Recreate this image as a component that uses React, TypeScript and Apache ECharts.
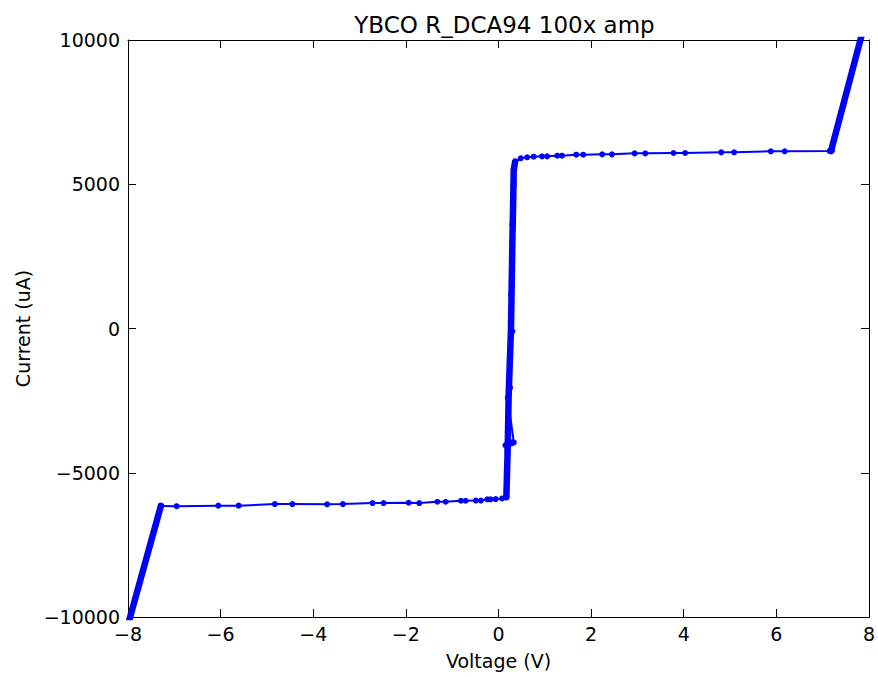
import React, { useEffect, useRef } from "react";
import * as echarts from "echarts";

// Measured points (thin line with dot markers)
const voltage = [
  -7.29, -6.95, -6.05, -5.61, -4.83, -4.45, -3.7, -3.36, -2.72, -2.48, -1.94, -1.71,
  -1.32, -1.14, -0.81, -0.71, -0.49, -0.38, -0.24, -0.17, -0.06, 0.08, 0.17,
  0.18, 0.15, 0.33, 0.2, 0.25, 0.3, 0.27, 0.3, 0.33, 0.33, 0.36,
  0.48, 0.62, 0.76, 0.94, 1.05, 1.27, 1.37, 1.68, 1.83, 2.24, 2.45, 2.94, 3.17,
  3.78, 4.03, 4.81, 5.09, 5.88, 6.18, 7.15, 7.2,
];
const current = [
  -6150, -6160, -6140, -6140, -6085, -6085, -6095, -6085, -6050, -6050, -6040, -6050,
  -6005, -6005, -5970, -5970, -5965, -5965, -5920, -5920, -5915, -5890, -5820,
  -5000, -4050, -3950, -2400, -2050, -100, 1200, 3600, 5000, 5550, 5780,
  5900, 5934, 5956, 5967, 5967, 5990, 5990, 6024, 6024, 6036, 6036, 6071, 6071,
  6083, 6083, 6106, 6106, 6141, 6141, 6152, 6165,
];

// Densely sampled stretches that render as thick bands
const denseV = [-7.98, -7.29, null, 0.17, 0.2, 0.22, 0.27, 0.3, 0.33, 0.36, null, 0.2, 0.3, null, 7.18, 7.84];
const denseI = [-10150, -6150, null, -5850, -4100, -2300, 0, 3000, 5500, 5790, null, -4000, -3960, null, 6150, 10150];

const xTicks = { min: -8, max: 8, interval: 2 };
const yTicks = { min: -10000, max: 10000, interval: 5000 };

const TITLE = "YBCO R_DCA94 100x amp";
const X_NAME = "Voltage (V)";
const Y_NAME = "Current (uA)";

const FONT = "DejaVu Sans";
const minus = (v: number) => String(v).replace("-", "\u2212");

export default function App() {
  const ref = useRef<HTMLDivElement>(null);
  useEffect(() => {
    if (!ref.current) return;
    const chart = echarts.init(ref.current, undefined, { renderer: "svg" });
    const mainData = voltage.map((v, i) => [v, current[i]]);
    const denseData = denseV.map((v, i) => (v === null ? [null, null] : [v, denseI[i]]));
    const axisCommon = {
      axisLine: { show: true, onZero: false, lineStyle: { color: "#000", width: 1 } },
      axisTick: { show: true, inside: true, length: 8, lineStyle: { color: "#000", width: 1 } },
      splitLine: { show: false },
    };
    chart.setOption({
      animation: false,
      backgroundColor: "#fff",
      title: {
        text: TITLE,
        left: 499.5,
        textAlign: "center",
        top: 8,
        textStyle: { fontFamily: FONT, fontSize: 23, fontWeight: "normal", color: "#000" },
      },
      grid: { left: 128, right: 7, top: 40, bottom: 60 },
      xAxis: [
        {
          type: "value",
          position: "bottom",
          ...xTicks,
          ...axisCommon,
          axisLabel: {
            fontFamily: FONT,
            fontSize: 19,
            color: "#000",
            margin: 7,
            formatter: minus,
          },
          name: X_NAME,
          nameLocation: "middle",
          nameGap: 34,
          nameTextStyle: { fontFamily: FONT, fontSize: 19, color: "#000" },
        },
        {
          type: "value",
          position: "top",
          ...xTicks,
          ...axisCommon,
          axisLabel: { show: false },
        },
      ],
      yAxis: [
        {
          type: "value",
          position: "left",
          ...yTicks,
          ...axisCommon,
          axisLabel: {
            fontFamily: FONT,
            fontSize: 19,
            color: "#000",
            margin: 8,
            formatter: minus,
          },
          name: Y_NAME,
          nameLocation: "middle",
          nameGap: 96,
          nameTextStyle: { fontFamily: FONT, fontSize: 19, color: "#000" },
        },
        {
          type: "value",
          position: "right",
          ...yTicks,
          ...axisCommon,
          axisLabel: { show: false },
        },
      ],
      series: [
        {
          type: "line",
          data: denseData,
          xAxisIndex: 0,
          yAxisIndex: 0,
          showSymbol: false,
          connectNulls: false,
          clip: true,
          lineStyle: { color: "#0000ff", width: 6.5, cap: "round", join: "round" },
          itemStyle: { color: "#0000ff" },
          z: 2,
        },
        {
          type: "line",
          data: mainData,
          xAxisIndex: 0,
          yAxisIndex: 0,
          symbol: "circle",
          symbolSize: 6,
          showSymbol: true,
          clip: true,
          lineStyle: { color: "#0000ff", width: 2 },
          itemStyle: { color: "#0000ff" },
          z: 3,
        },
      ],
    });
    return () => chart.dispose();
  }, []);
  return (
    <div
      ref={ref}
      style={{ position: "fixed", left: 0, top: 0, width: 878, height: 677, background: "#fff" }}
    />
  );
}
